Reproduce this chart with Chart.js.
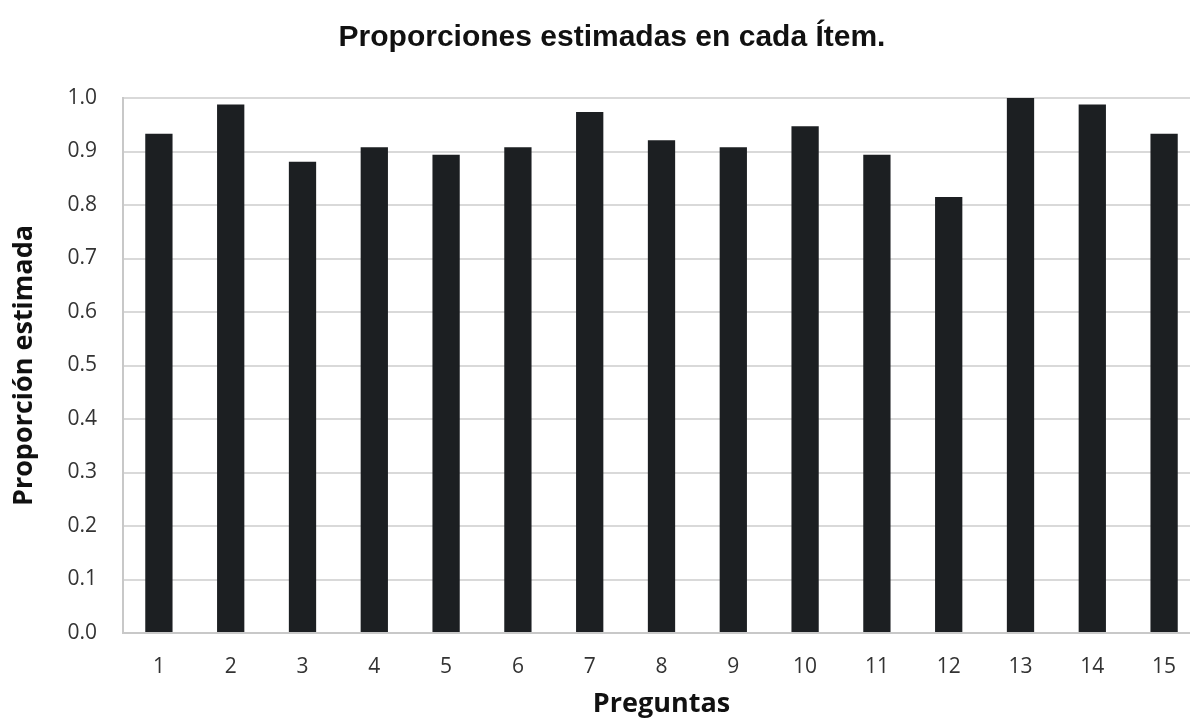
<!DOCTYPE html>
<html>
<head>
<meta charset="utf-8">
<script src="https://cdn.jsdelivr.net/npm/chart.js@4/dist/chart.umd.min.js"></script>
<style>
  html, body { margin: 0; padding: 0; background: #fff; overflow: hidden; }
  #wrap { width: 1200px; height: 724px; }
</style>
</head>
<body>
<div id="wrap"><canvas id="myChart" width="1200" height="724"></canvas></div>
<script>
// data
const preguntas = ["1", "2", "3", "4", "5", "6", "7", "8", "9", "10", "11", "12", "13", "14", "15"];
const proporciones = [0.933, 0.988, 0.881, 0.908, 0.894, 0.908, 0.974, 0.921, 0.908, 0.947, 0.894, 0.815, 1.0, 0.988, 0.933];
const yTicks = [0.0, 0.1, 0.2, 0.3, 0.4, 0.5, 0.6, 0.7, 0.8, 0.9, 1.0];

const ctx = document.getElementById("myChart").getContext("2d");
const myChart = new Chart(ctx, {
  type: "bar",
  data: {
    labels: preguntas,
    datasets: [
      {
        label: "Proporción estimada",
        data: proporciones,
        backgroundColor: "#1c1f22",
        borderWidth: 0,
        barPercentage: 0.38,
        categoryPercentage: 1.0,
      },
    ],
  },
  options: {
    responsive: false,
    animation: false,
    layout: { padding: { left: 24, right: 0, top: 0, bottom: 0 } },
    plugins: {
      legend: { display: false },
      tooltip: { enabled: false },
      title: {
        display: true,
        text: "Proporciones estimadas en cada Ítem.",
        color: "#111",
        font: { family: "Liberation Sans", size: 30, weight: "bold" },
        padding: { top: 20, bottom: 42 },
      },
    },
    scales: {
      x: {
        grid: { display: false, drawTicks: false },
        border: { color: "#c8c8c8", width: 2 },
        ticks: {
          color: "#333",
          font: { family: "Open Sans", size: 21 },
          padding: 21,
        },
        title: {
          display: true,
          text: "Preguntas",
          color: "#111",
          font: { family: "Open Sans", size: 27, weight: "bold" },
          padding: { top: 4, bottom: 3 },
        },
        afterFit: function (scale) {
          scale.height = 91;
        },
      },
      y: {
        min: 0,
        max: 1,
        afterBuildTicks: function (scale) {
          scale.ticks = yTicks.map(function (v) { return { value: v }; });
        },
        grid: { color: "#d9d9d9", lineWidth: 2, drawTicks: false },
        border: { color: "#c8c8c8", width: 2 },
        ticks: {
          color: "#333",
          font: { family: "Open Sans", size: 21 },
          padding: 26,
          callback: function (value) { return value.toFixed(1); },
        },
        title: {
          display: true,
          text: "Proporción estimada",
          color: "#111",
          font: { family: "Open Sans", size: 27, weight: "bold" },
          padding: { top: -16, bottom: 0 },
        },
        afterFit: function (scale) {
          scale.width = 99;
        },
      },
    },
  },
});
</script>
</body>
</html>
